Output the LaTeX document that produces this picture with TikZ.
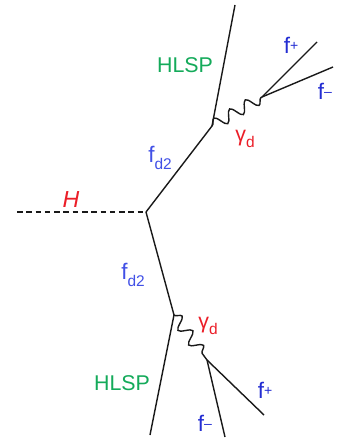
\documentclass[tikz,border=0pt]{standalone}
\usepackage{fontspec}
\setmainfont{Liberation Sans}
\usepackage{tikz}
\usetikzlibrary{decorations.pathmorphing}
\definecolor{hlspgreen}{RGB}{20,170,90}
\definecolor{fermblue}{RGB}{35,45,210}
\definecolor{dsblue}{RGB}{65,80,230}
\definecolor{darkred}{RGB}{235,30,40}
\newcommand{\subtxt}[1]{\raisebox{-0.32em}{\fontsize{11}{12}\selectfont #1}}
\newcommand{\suptxt}[1]{\raisebox{0.12em}{\fontsize{10}{11}\selectfont #1}}
\begin{document}
\begin{tikzpicture}[x=0.025cm, y=-0.025cm,
  line/.style={line width=1pt, black!90},
  scalar/.style={line, dashed, dash pattern=on 4pt off 2.6pt},
  photon/.style={line, decorate, decoration={snake, segment length=12.9pt, amplitude=4.2pt}},
  lab/.style={inner sep=0pt, font=\fontsize{15.2}{17}\selectfont},
  flab/.style={lab, font=\fontsize{16}{18}\selectfont}]
\useasboundingbox (0,0) rectangle (337,440);
\coordinate (hstart) at (17,212);
\coordinate (vtx) at (146,212);
\coordinate (up) at (212,126);
\coordinate (uptop) at (235,5);
\coordinate (upph) at (262,97);
\coordinate (upplus) at (317,42);
\coordinate (upminus) at (333,67);
\coordinate (low) at (174,315);
\coordinate (lowend) at (150,435);
\coordinate (lowph) at (207,360);
\coordinate (lowplus) at (264,415);
\coordinate (lowminus) at (225,437);
% lines
\draw[scalar] (hstart) -- (vtx);
\draw[line] (vtx) -- (up); \draw[line] (up) -- (uptop);
\draw[line] (vtx) -- (low); \draw[line] (low) -- (lowend);
\draw[photon] (up) -- (upph);
\draw[photon] (low) -- (lowph);
\draw[line] (upph) -- (upplus); \draw[line] (upph) -- (upminus);
\draw[line] (lowph) -- (lowplus); \draw[line] (lowph) -- (lowminus);
% labels
\node[lab, text=darkred, font=\fontsize{16.5}{18}\selectfont\itshape] (hlab) at (71,200) {H};
\node[lab, text=hlspgreen] (hlspup) at (185,65) {HLSP};
\node[lab, text=hlspgreen] (hlsplow) at (122,383) {HLSP};
\node[flab, text=dsblue] (fdup) at (160,158) {f\subtxt{d2}};
\node[flab, text=dsblue] (fdlow) at (133,275) {f\subtxt{d2}};
\node[lab, text=darkred] (gup) at (245,139) {γ\subtxt{d}};
\node[lab, text=darkred] (glow) at (208,326) {γ\subtxt{d}};
\node[flab, text=fermblue] (fpup) at (291,45) {f\suptxt{+}};
\node[flab, text=fermblue] (fmup) at (325,91) {f\suptxt{–}};
\node[flab, text=fermblue] (fplow) at (265,390) {f\suptxt{+}};
\node[flab, text=fermblue] (fmlow) at (205,423) {f\suptxt{–}};
\end{tikzpicture}
\end{document}
